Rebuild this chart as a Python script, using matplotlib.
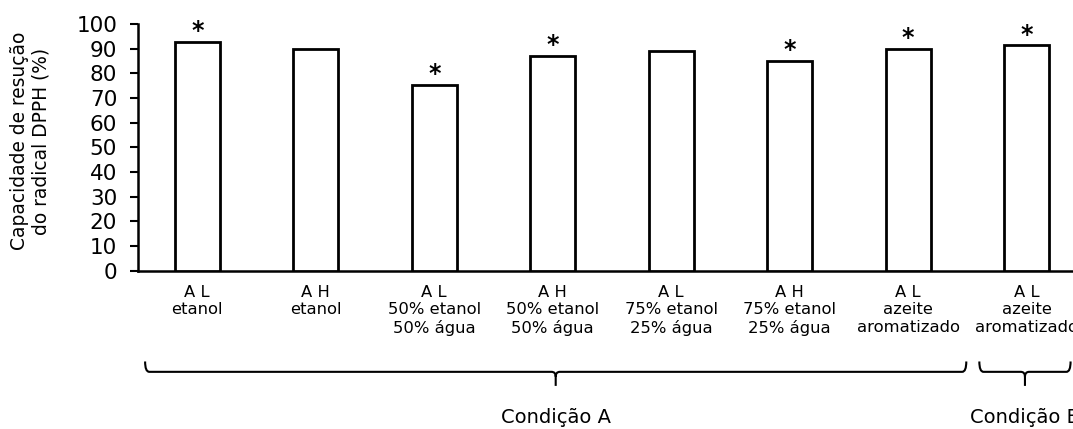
import numpy as np
import matplotlib.pyplot as plt
from matplotlib.path import Path
from matplotlib.patches import PathPatch
import matplotlib.transforms as mtransforms

plt.rcParams['font.family'] = ['DejaVu Sans']

# data
categories = ["A L\netanol", "A H\netanol",
              "A L\n50% etanol\n50% água", "A H\n50% etanol\n50% água",
              "A L\n75% etanol\n25% água", "A H\n75% etanol\n25% água",
              "A L\nazeite\naromatizado", "A L\nazeite\naromatizado"]
values = [92.8, 89.9, 75.4, 87.1, 89.2, 85.0, 90.0, 91.4]
significant = [True, False, True, True, False, True, True, True]
yticks = [0, 10, 20, 30, 40, 50, 60, 70, 80, 90, 100]
groups = ["Condição A", "Condição B"]
group_first = [0, 7]
group_last = [6, 7]

# brace extents beyond first/last bar centre
brace_pad_left = [0.44, 0.40]
brace_pad_right = [0.49, 0.37]


def draw_brace(ax, x0, x1, label):
    trans = mtransforms.blended_transform_factory(ax.transData, ax.transAxes)
    y_line = -0.410
    y_hook = -0.368
    y_tip = -0.467
    r = 0.035
    xm = (x0 + x1) / 2
    verts = [(x0, y_hook), (x0, y_line), (x0 + r, y_line),
             (xm - r, y_line), (xm, y_line), (xm, y_line - 0.02),
             (xm, y_tip),
             (xm, y_line - 0.02), (xm, y_line), (xm + r, y_line),
             (x1 - r, y_line), (x1, y_line), (x1, y_hook)]
    codes = [Path.MOVETO, Path.CURVE3, Path.CURVE3,
             Path.LINETO, Path.CURVE3, Path.CURVE3,
             Path.LINETO,
             Path.MOVETO, Path.CURVE3, Path.CURVE3,
             Path.LINETO, Path.CURVE3, Path.CURVE3]
    patch = PathPatch(Path(verts, codes), transform=trans, fill=False,
                      lw=1.5, edgecolor='black', clip_on=False)
    ax.add_patch(patch)
    ax.text(xm, -0.617, label, transform=trans, ha='center', va='baseline',
            fontsize=14, clip_on=False)


fig = plt.figure(figsize=(10.73, 4.29), dpi=100)
ax = fig.add_axes([0.1286, 0.369, 0.8835, 0.575])

x = np.arange(len(values))
ax.bar(x, values, width=0.38, color='white', edgecolor='black', linewidth=2.0, zorder=3)

for xi, v, s in zip(x, values, significant):
    if s:
        ax.annotate("*", (xi, v), xytext=(0, -1), textcoords='offset points',
                    ha='center', va='bottom', fontsize=17, fontweight='bold')

ax.set_xlim(-0.5, 7.5)
ax.set_ylim(0, 100)
ax.set_yticks(yticks)
ax.set_xticks(x)
ax.set_xticklabels(categories, fontsize=11.8, linespacing=1.22)
ax.tick_params(axis='x', length=0, pad=10)
ax.tick_params(axis='y', length=6, width=1.5, labelsize=15.5, pad=9)

for side in ['top', 'right']:
    ax.spines[side].set_visible(False)
ax.spines['left'].set_linewidth(1.8)
ax.spines['bottom'].set_linewidth(1.8)

ax.set_ylabel("Capacidade de resução\ndo radical DPPH (%)", fontsize=13.4, linespacing=1.2)
ax.yaxis.set_label_coords(-0.092, 0.525)

for name, a, b, pl, pr in zip(groups, group_first, group_last, brace_pad_left, brace_pad_right):
    draw_brace(ax, a - pl, b + pr, name)

fig.savefig("out.png", dpi=100)
